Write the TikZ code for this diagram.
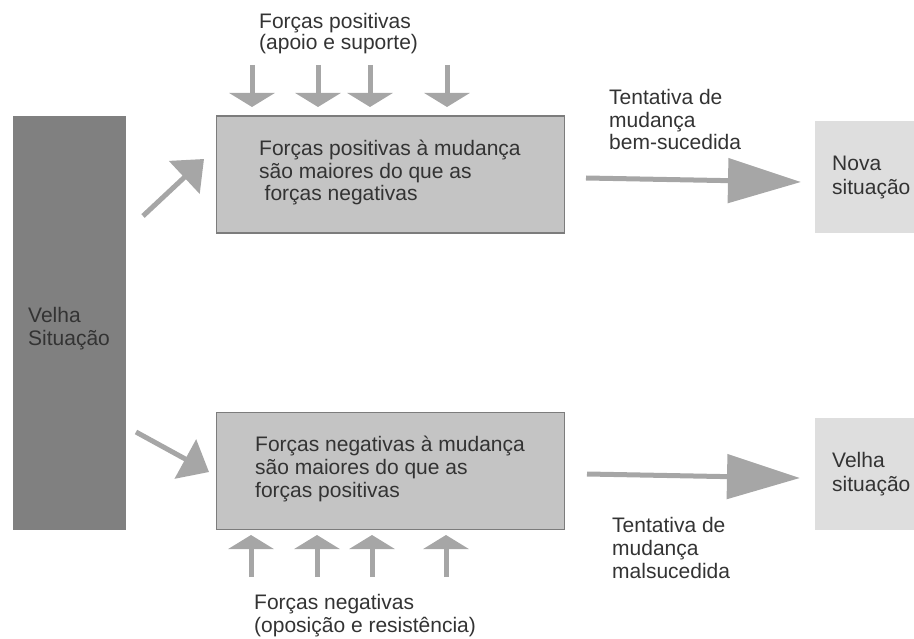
\documentclass[tikz,border=0pt]{standalone}
\usepackage{fontspec}
\setmainfont{Liberation Sans}
\usetikzlibrary{arrows.meta}

\definecolor{darkbox}{HTML}{808080}
\definecolor{midbox}{HTML}{C4C4C4}
\definecolor{midedge}{HTML}{7C7C7C}
\definecolor{lightbox}{HTML}{DEDEDE}
\definecolor{arrowgray}{HTML}{A6A6A6}
\definecolor{textgray}{HTML}{333333}

\begin{document}
\begin{tikzpicture}[x=1pt,y=-1pt,
  % multi-line texts are placed by the baseline of their last line
  txt/.style={anchor=base west, inner sep=0pt, align=left, text=textgray,
              font=\fontsize{21}{22.7}\selectfont},
  block/.style={anchor=north west, inner sep=0pt, minimum width=#1},
  oldblock/.style={block=113pt, minimum height=414pt, fill=darkbox, draw=none},
  forcebox/.style={block=348pt, minimum height=117pt, fill=midbox, draw=midedge, line width=1.2pt},
  resultbox/.style={block=130pt, minimum height=112pt, fill=lightbox, draw=none},
  force/.style={draw=arrowgray, line width=5pt, -{Triangle[width=45pt,length=14pt]}},
  diag/.style={draw=arrowgray, line width=5pt, -{Triangle[width=44pt,length=27pt]}},
  attempt/.style={draw=arrowgray, line width=5pt, -{Triangle[width=44pt,length=73pt]}}]
\useasboundingbox (0,0) rectangle (914,639);

% Blocks
\node[oldblock]  (old) at (13,116) {};
\node[forcebox]  (pos) at (216,115.5) {};
\node[forcebox]  (neg) at (216,412) {};
\node[resultbox] (new) at (815,121) {};
\node[resultbox] (same) at (815,417.5) {};

% Block texts
\node[txt] (oldtxt) at (28,345) {Velha\\Situação};
\node[txt] (postxt) at (259,201) {Forças positivas à mudança\\são maiores do que as\\\hspace*{5.5pt}forças negativas};
\node[txt] (negtxt) at (255,497) {Forças negativas à mudança\\são maiores do que as\\forças positivas};
\node[txt, font=\fontsize{21}{24}\selectfont] (newtxt) at (832,195) {Nova\\situação};
\node[txt, font=\fontsize{21}{24}\selectfont] (sametxt) at (832,491) {Velha\\situação};

% Labels
\node[txt, font=\fontsize{21}{21.5}\selectfont] (poslabel) at (259,50) {Forças positivas\\(apoio e suporte)};
\node[txt] (neglabel) at (254,632) {Forças negativas\\(oposição e resistência)};
\node[txt] (oklabel) at (609,150) {Tentativa de\\mudança\\bem-sucedida};
\node[txt] (faillabel) at (612,578) {Tentativa de\\mudança\\malsucedida};

% Branches leaving the old situation
\coordinate (d1s) at (143,216);
\coordinate (d1e) at (204,159);
\coordinate (d2s) at (136,432);
\coordinate (d2e) at (209,472);
\draw[diag] (d1s) -- (d1e);
\draw[diag] (d2s) -- (d2e);

% Change attempts
\coordinate (a1s) at (586,178);
\coordinate (a1e) at (801,182);
\coordinate (a2s) at (587,474);
\coordinate (a2e) at (800,478);
\draw[attempt] (a1s) -- (a1e);
\draw[attempt] (a2s) -- (a2e);

% Supporting forces pressing down
\foreach \x [count=\i] in {252,318,370,447}{
  \coordinate (p\i s) at (\x,65);
  \coordinate (p\i e) at (\x,107);
  \draw[force] (p\i s) -- (p\i e);
}
% Resisting forces pushing up
\foreach \x [count=\i] in {251,317,372,446}{
  \coordinate (n\i s) at (\x,577);
  \coordinate (n\i e) at (\x,535);
  \draw[force] (n\i s) -- (n\i e);
}
\end{tikzpicture}
\end{document}
